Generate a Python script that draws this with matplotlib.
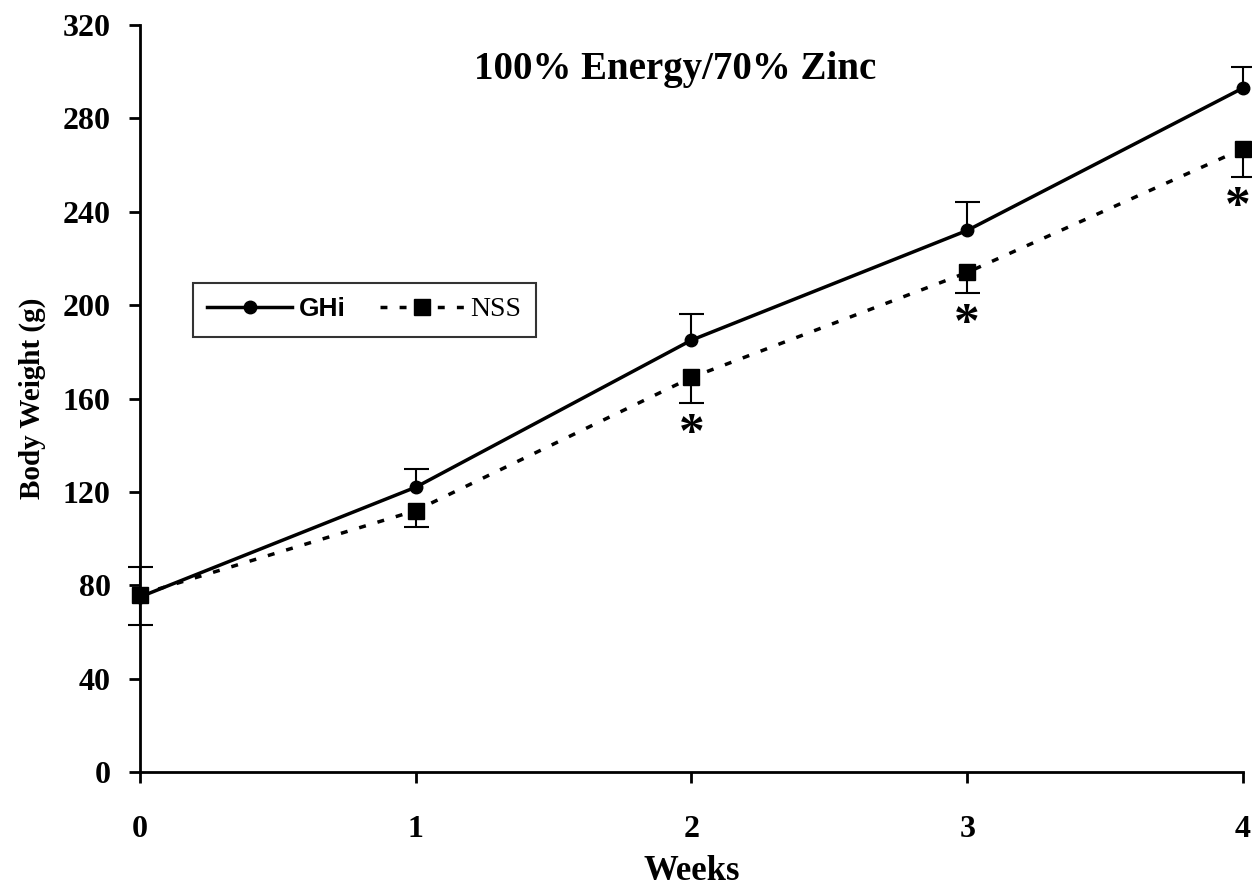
import matplotlib
matplotlib.use("Agg")
import matplotlib.pyplot as plt
from matplotlib.lines import Line2D

weeks = [0, 1, 2, 3, 4]
ghi_mean = [75, 122, 185, 232, 293]
ghi_err = [13, 8, 11, 12, 9]
nss_mean = [76, 112, 169, 214, 267]
nss_err = [13, 7, 11, 9, 12]
significant = [False, False, True, True, True]
yticks = [0, 40, 80, 120, 160, 200, 240, 280, 320]

serif = "Liberation Serif"
fig = plt.figure(figsize=(12.52, 8.92), dpi=100)
ax = fig.add_axes([0.1118, 0.1345, 0.8810, 0.8375])

ax.plot(weeks, ghi_mean, color="black", lw=2.5, marker="o", ms=9, zorder=3, clip_on=False)
ax.plot(weeks, nss_mean, color="black", lw=2.5, ls=(0, (2, 3.5)), marker="s", ms=11,
        zorder=3, clip_on=False)

# one-sided error bars: GHi upward, NSS downward
_, caps1, bars1 = ax.errorbar(weeks, ghi_mean, yerr=[[0]*5, ghi_err], fmt="none",
                              ecolor="black", capsize=9, capthick=1.5, elinewidth=1.5,
                              zorder=2)
_, caps2, bars2 = ax.errorbar(weeks, nss_mean, yerr=[nss_err, [0]*5], fmt="none",
                              ecolor="black", capsize=9, capthick=1.5, elinewidth=1.5,
                              zorder=2)
for c in caps1:
    if list(c.get_ydata()) == list(ghi_mean):
        c.set_visible(False)
for c in caps2:
    if list(c.get_ydata()) == list(nss_mean):
        c.set_visible(False)
for art in list(caps1) + list(caps2) + list(bars1) + list(bars2):
    art.set_clip_on(False)

for w, m, e, s in zip(weeks, nss_mean, nss_err, significant):
    if s:
        dx = -4 if w == weeks[-1] else 0
        ax.annotate("*", xy=(w, m - e), xytext=(dx, -6), textcoords="offset points",
                    ha="center", va="top", fontsize=37, fontweight="bold",
                    family=serif)

ax.set_xlim(0, 4)
ax.set_ylim(0, 320)
ax.set_xticks(weeks)
ax.set_yticks(yticks)
for s in ["top", "right"]:
    ax.spines[s].set_visible(False)
for s in ["left", "bottom"]:
    ax.spines[s].set_linewidth(2)
ax.tick_params(axis="y", direction="out", length=8, width=2, labelsize=23, pad=13)
ax.tick_params(axis="x", direction="out", length=8, width=2, labelsize=23, pad=23)
for lab in ax.get_xticklabels() + ax.get_yticklabels():
    lab.set_family(serif)
    lab.set_fontweight("bold")

ax.set_xlabel("Weeks", family=serif, fontweight="bold", fontsize=25, labelpad=8)
ax.set_ylabel("Body Weight (g)", family=serif, fontweight="bold", fontsize=21, labelpad=12)
ax.text(0.485, 0.94, "100% Energy/70% Zinc", transform=ax.transAxes, ha="center",
        va="center", family=serif, fontweight="bold", fontsize=28)

h1 = Line2D([], [], color="black", lw=2.5, marker="o", ms=9)
h2 = Line2D([], [], color="black", lw=2.5, ls=(0, (2, 3.5)), marker="s", ms=11)
leg = ax.legend([h1, h2], ["GHi", "NSS"], loc="upper left", bbox_to_anchor=(0.048, 0.655),
                ncol=2, frameon=True, fancybox=False, edgecolor="black",
                prop={"size": 19}, handlelength=3.2, columnspacing=1.3,
                borderpad=0.55, handletextpad=0.25, borderaxespad=0.0)
leg.get_frame().set_linewidth(1.5)
t1, t2 = leg.get_texts()
t1.set_family("Liberation Sans"); t1.set_fontweight("bold"); t1.set_fontsize(19)
t2.set_family(serif); t2.set_fontsize(20)

fig.savefig("out.png", dpi=100)
